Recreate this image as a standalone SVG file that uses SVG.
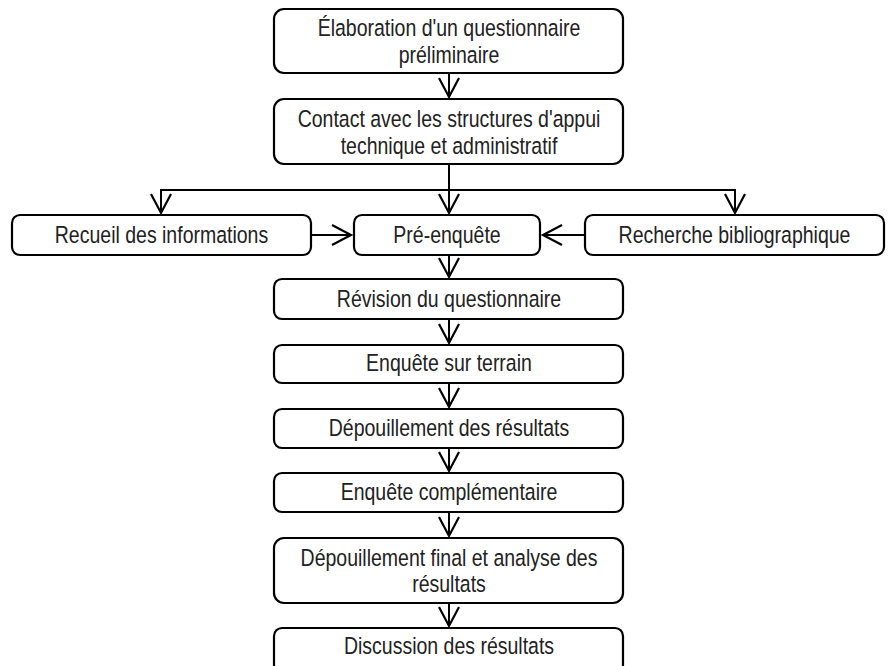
<svg xmlns="http://www.w3.org/2000/svg" width="891" height="666" viewBox="0 0 891 666">
<style>
.box{fill:#fff;stroke:#000;stroke-width:2.2}
.t{font-family:"Liberation Sans",Arial,sans-serif;font-size:23.5px;fill:#222;text-anchor:middle}
.c{fill:none;stroke:#000;stroke-width:2}
</style>
<defs>
<marker id="ah" viewBox="0 0 24 24" refX="21" refY="12" markerWidth="24" markerHeight="24" markerUnits="userSpaceOnUse" orient="auto">
<path d="M2,2 L21,12 L2,22" fill="none" stroke="#000" stroke-width="2.2"/>
</marker>
</defs>
<rect width="891" height="666" fill="#fff"/>
<g id="connectors">
<path class="c" d="M449,73 V97" marker-end="url(#ah)"/>
<path class="c" d="M449,164 V213" marker-end="url(#ah)"/>
<path class="c" d="M449,190 H161 V213" marker-end="url(#ah)"/>
<path class="c" d="M449,190 H735 V213" marker-end="url(#ah)"/>
<path class="c" d="M311,235 H351" marker-end="url(#ah)"/>
<path class="c" d="M585,235 H543" marker-end="url(#ah)"/>
<path class="c" d="M449,255 V277" marker-end="url(#ah)"/>
<path class="c" d="M449,319 V343" marker-end="url(#ah)"/>
<path class="c" d="M449,383 V407" marker-end="url(#ah)"/>
<path class="c" d="M449,448 V471" marker-end="url(#ah)"/>
<path class="c" d="M449,512 V536" marker-end="url(#ah)"/>
<path class="c" d="M449,603 V626" marker-end="url(#ah)"/>
</g>
<g id="n1"><rect class="box" x="274" y="9" width="349" height="64" rx="10"/>
<text class="t" transform="matrix(0.83 0 0 1 449 36)">Élaboration d'un questionnaire</text>
<text class="t" transform="matrix(0.83 0 0 1 449 63)">préliminaire</text></g>
<g id="n2"><rect class="box" x="274" y="99" width="349" height="65" rx="10"/>
<text class="t" transform="matrix(0.83 0 0 1 449 127)">Contact avec les structures d'appui</text>
<text class="t" transform="matrix(0.83 0 0 1 449 154)">technique et administratif</text></g>
<g id="n3"><rect class="box" x="12" y="215" width="299" height="40" rx="8"/>
<text class="t" transform="matrix(0.83 0 0 1 161.5 243)">Recueil des informations</text></g>
<g id="n4"><rect class="box" x="354" y="215" width="186" height="40" rx="8"/>
<text class="t" transform="matrix(0.83 0 0 1 447 243)">Pré-enquête</text></g>
<g id="n5"><rect class="box" x="585" y="215" width="299" height="40" rx="8"/>
<text class="t" transform="matrix(0.83 0 0 1 734.5 243)">Recherche bibliographique</text></g>
<g id="n6"><rect class="box" x="274" y="279" width="349" height="40" rx="8"/>
<text class="t" transform="matrix(0.83 0 0 1 449 306.5)">Révision du questionnaire</text></g>
<g id="n7"><rect class="box" x="274" y="345" width="349" height="38" rx="8"/>
<text class="t" transform="matrix(0.83 0 0 1 449 371)">Enquête sur terrain</text></g>
<g id="n8"><rect class="box" x="274" y="409" width="349" height="39" rx="8"/>
<text class="t" transform="matrix(0.83 0 0 1 449 435.5)">Dépouillement des résultats</text></g>
<g id="n9"><rect class="box" x="274" y="473" width="349" height="39" rx="8"/>
<text class="t" transform="matrix(0.83 0 0 1 449 499.5)">Enquête complémentaire</text></g>
<g id="n10"><rect class="box" x="274" y="538" width="349" height="65" rx="10"/>
<text class="t" transform="matrix(0.83 0 0 1 449 566)">Dépouillement final et analyse des</text>
<text class="t" transform="matrix(0.83 0 0 1 449 592)">résultats</text></g>
<g id="n11"><rect class="box" x="274" y="628" width="349" height="45" rx="8"/>
<text class="t" transform="matrix(0.83 0 0 1 449 654)">Discussion des résultats</text></g>
</svg>
